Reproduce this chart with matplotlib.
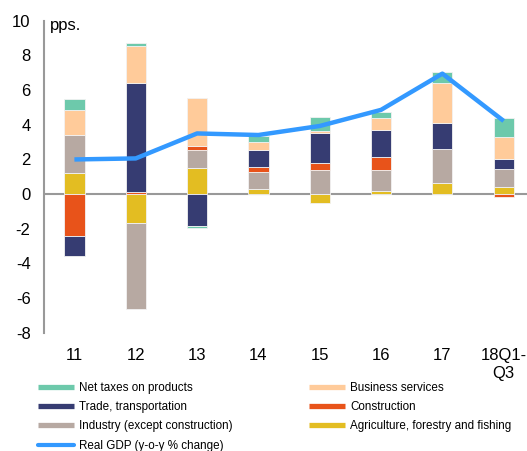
import numpy as np
import matplotlib.pyplot as plt
from matplotlib.lines import Line2D

plt.rcParams['font.family'] = ['Liberation Sans', 'DejaVu Sans']
plt.rcParams['axes.unicode_minus'] = False

# 資料
categories = ['11', '12', '13', '14', '15', '16', '17', '18Q1-\nQ3']
agri = [1.20, -1.64, 1.52, 0.29, -0.54, 0.19, 0.62, 0.39]
industry = [2.20, -4.99, 1.02, 0.98, 1.39, 1.20, 2.00, 1.06]
construction = [-2.39, 0.10, 0.23, 0.27, 0.38, 0.75, 0.00, -0.19]
trade = [-1.15, 6.33, -1.85, 0.99, 1.77, 1.56, 1.50, 0.57]
business = [1.45, 2.09, 2.76, 0.49, 0.10, 0.68, 2.31, 1.27]
net_taxes = [0.65, 0.17, -0.10, 0.33, 0.79, 0.38, 0.60, 1.09]
gdp = [2.00, 2.06, 3.50, 3.41, 3.93, 4.86, 6.95, 4.22]

series = [
    ('Agriculture, forestry and fishing', agri, '#E3BD22'),
    ('Industry (except construction)', industry, '#B7A9A2'),
    ('Construction', construction, '#E8531A'),
    ('Trade, transportation', trade, '#363C72'),
    ('Business services', business, '#FFCB9A'),
    ('Net taxes on products', net_taxes, '#6DC9AB'),
]
gdp_color = '#3399FF'

fig = plt.figure(figsize=(5.27, 4.51), dpi=100)
ax = fig.add_axes([0.083, 0.262, 0.917, 0.692])

x = np.arange(len(categories))
pos_base = np.zeros(len(x))
neg_base = np.zeros(len(x))
for name, vals, col in series:
    v = np.array(vals)
    bottom = np.where(v >= 0, pos_base, neg_base)
    ax.bar(x, v, 0.33, bottom=bottom, color=col, edgecolor='#f2f2f2', linewidth=0.6, zorder=2)
    pos_base = pos_base + np.where(v >= 0, v, 0)
    neg_base = neg_base + np.where(v < 0, v, 0)

ax.plot(x, gdp, color=gdp_color, lw=3.2, zorder=3, solid_capstyle='butt')
ax.axhline(0, color='#999999', lw=1.5, zorder=1)

ax.set_ylim(-8, 10)
ax.set_xlim(-0.5, 7.38)
ax.set_yticks(range(-8, 11, 2))
ax.set_xticks(x)
ax.set_xticklabels(categories)
ax.tick_params(axis='both', length=0, labelsize=12)
ax.tick_params(axis='x', pad=11)
ax.tick_params(axis='y', pad=9.5)
for s in ['top', 'right', 'bottom']:
    ax.spines[s].set_visible(False)
ax.spines['left'].set_color('#999999')
ax.spines['left'].set_linewidth(1.5)
ax.text(0.013, 9.75, 'pps.', transform=ax.get_yaxis_transform(), fontsize=12, va='center', ha='left')

# 圖例
handles = []
for i in [5, 3, 1]:
    handles.append(Line2D([], [], color=series[i][2], lw=3.8, solid_capstyle='butt', label=series[i][0]))
handles.append(Line2D([], [], color=gdp_color, lw=3, solid_capstyle='round', label='Real GDP (y-o-y % change)'))
for i in [4, 2, 0]:
    handles.append(Line2D([], [], color=series[i][2], lw=3.8, solid_capstyle='butt', label=series[i][0]))
fig.legend(handles=handles, ncol=2, loc='upper left', bbox_to_anchor=(0.072, 0.153),
           frameon=False, fontsize=8.4, handlelength=3.1, handletextpad=0.4,
           columnspacing=6.6, labelspacing=0.62, borderaxespad=0, borderpad=0)

fig.savefig('out.png', dpi=100)
